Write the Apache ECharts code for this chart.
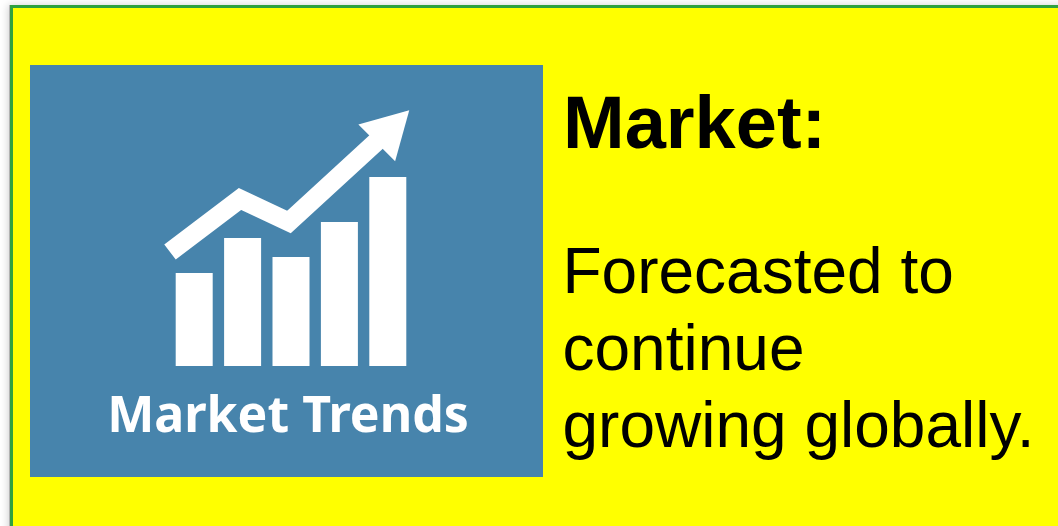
<!DOCTYPE html>
<html>
<head>
<meta charset="utf-8">
<style>html,body{margin:0;padding:0;background:#fff;overflow:hidden}#c{width:1058px;height:526px}</style>
<script src="https://cdn.jsdelivr.net/npm/echarts@6/dist/echarts.min.js"></script>
</head>
<body>
<div id="c"></div>
<script>
var categories = ['1', '2', '3', '4', '5'];
var barValues = [93, 128, 109, 144, 189];
var trendX = [0, 70, 119, 223];
var trendY = [114, 167, 144, 239.5];
var heading = 'Market:';
var bodyLines = ['Forecasted to', 'continue', 'growing globally.'];
var badge = 'Market Trends';

var chart = echarts.init(document.getElementById('c'), null, {renderer: 'canvas'});
var font = '"Liberation Sans", Arial, sans-serif';
var graphics = [
  {type: 'rect', z: 0, silent: true, shape: {x: 9, y: 5, width: 1080, height: 560},
   style: {fill: 'rgba(120,120,120,0.45)', shadowBlur: 8, shadowColor: 'rgba(0,0,0,0.4)', shadowOffsetX: -1}},
  {type: 'rect', z: 0, silent: true, shape: {x: 11.5, y: 6.5, width: 1080, height: 560},
   style: {fill: '#ffff00', stroke: '#2fa13f', lineWidth: 3}},
  {type: 'rect', z: 0, silent: true, shape: {x: 30, y: 65, width: 513, height: 412}, style: {fill: '#4784ac'}},
  {type: 'text', z: 1, silent: true, x: 288, y: 393,
   style: {text: badge, fill: '#ffffff', font: 'bold 50px "Noto Sans", sans-serif', textAlign: 'center', shadowBlur: 2, shadowColor: 'rgba(255,255,255,0.6)'}},
  {type: 'text', z: 1, silent: true, x: 563, y: 91,
   style: {text: heading, fill: '#000000', font: 'bold 74px ' + font}}
];
bodyLines.forEach(function (t, i) {
  graphics.push({type: 'text', z: 1, silent: true, x: 562.5, y: 243 + i * 77,
    style: {text: t, fill: '#000000', font: '64px ' + font}});
});

var trendData = trendX.map(function (x, i) {
  var d = {value: [x, trendY[i]], symbol: 'none'};
  if (i === trendX.length - 1) {
    d.symbol = 'triangle';
    d.symbolSize = [52, 46];
    d.symbolRotate = -45;
  }
  return d;
});

chart.setOption({
  animation: false,
  backgroundColor: '#ffffff',
  graphic: {elements: graphics},
  grid: {left: 170, top: 100, width: 242, height: 266},
  xAxis: [
    {type: 'category', data: categories, show: false, gridIndex: 0},
    {type: 'value', min: 0, max: 242, show: false, gridIndex: 0}
  ],
  yAxis: {type: 'value', min: 0, max: 266, show: false},
  series: [
    {type: 'bar', xAxisIndex: 0, data: barValues, barWidth: 37,
     itemStyle: {color: '#ffffff'}, silent: true, z: 2},
    {type: 'line', xAxisIndex: 1, data: trendData, clip: false, silent: true, z: 3,
     lineStyle: {color: '#ffffff', width: 19, join: 'miter', cap: 'butt'},
     itemStyle: {color: '#ffffff'}}
  ]
});
</script>
</body>
</html>
